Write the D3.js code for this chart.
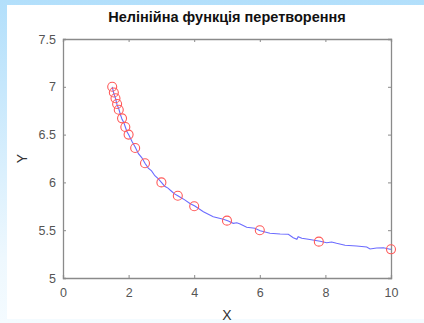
<!DOCTYPE html>
<html>
<head>
<meta charset="utf-8">
<script src="https://cdn.jsdelivr.net/npm/d3@7"></script>
<style>
  html, body { margin: 0; padding: 0; }
  body { width: 424px; height: 323px; overflow: hidden;
         background: linear-gradient(to bottom, #b2dffb, #eef8fe 80%, #f4fbff); }
  svg { display: block; }
</style>
</head>
<body>
<div id="chart"></div>
<script>
// data
const title = "Нелінійна функція перетворення";
const xTicks = [0, 2, 4, 6, 8, 10];
const yTicks = [5, 5.5, 6, 6.5, 7, 7.5];

// red circle markers
const markerX = [1.5, 1.55, 1.6, 1.65, 1.7, 1.8, 1.9, 2.0, 2.2, 2.5, 3, 3.5, 4, 5, 6, 7.8, 10];
const markerY = [7.0, 6.94, 6.88, 6.82, 6.76, 6.67, 6.58, 6.5, 6.36, 6.2, 6.0, 5.86, 5.75, 5.6, 5.5, 5.38, 5.3];

// noisy blue line
const lineX = [1.5, 1.55, 1.6, 1.65, 1.7, 1.75, 1.8, 1.85, 1.9, 1.95, 2.0, 2.1, 2.2, 2.3, 2.4, 2.5,
  2.6, 2.7, 2.8, 2.9, 3.0, 3.1, 3.2, 3.3, 3.4, 3.5, 3.6, 3.7, 3.87, 4.02, 4.28, 4.58, 4.89, 5.04,
  5.19, 5.30, 5.40, 5.60, 5.85, 6.01, 6.31, 6.62, 6.87, 7.02, 7.13, 7.17, 7.28, 7.48, 7.84, 8.04,
  8.19, 8.34, 8.60, 8.95, 9.26, 9.36, 9.56, 9.77, 9.97, 10];
const lineY = [7.0, 6.93, 6.88, 6.81, 6.77, 6.71, 6.66, 6.63, 6.58, 6.53, 6.5, 6.43, 6.37, 6.30, 6.26, 6.2,
  6.15, 6.12, 6.07, 6.04, 6.0, 5.96, 5.94, 5.91, 5.88, 5.86, 5.84, 5.82, 5.78, 5.753, 5.694, 5.641, 5.614, 5.596,
  5.572, 5.578, 5.565, 5.530, 5.520, 5.495, 5.468, 5.460, 5.457, 5.422, 5.405, 5.432, 5.415, 5.405, 5.384, 5.369,
  5.377, 5.363, 5.342, 5.335, 5.324, 5.303, 5.314, 5.317, 5.300, 5.30];

const width = 424;
const height = 323;
const margin = { top: 39, right: 33, bottom: 45, left: 63 };
const axisGray = "#8a8a8a";
const labelGray = "#555";

const svg = d3.select("#chart")
  .append("svg")
  .attr("width", width)
  .attr("height", height);

// white panel over the blue frame
svg.append("rect")
  .attr("x", 7).attr("y", 5)
  .attr("width", width - 7).attr("height", 314)
  .attr("fill", "#fff");

const x = d3.scaleLinear().domain([0, 10]).range([margin.left, width - margin.right]);
const y = d3.scaleLinear().domain([5, 7.5]).range([height - margin.bottom, margin.top]);

// axes, ticks pointing inward on all four sides
const gB = svg.append("g").attr("transform", `translate(0,${y(5)})`)
  .call(d3.axisBottom(x).tickValues(xTicks).tickSize(-3).tickPadding(10));
const gT = svg.append("g").attr("transform", `translate(0,${y(7.5)})`)
  .call(d3.axisTop(x).tickValues(xTicks).tickSize(-3).tickFormat(""));
const gL = svg.append("g").attr("transform", `translate(${x(0)},0)`)
  .call(d3.axisLeft(y).tickValues(yTicks).tickSize(-3).tickPadding(7).tickFormat(d3.format("")));
const gR = svg.append("g").attr("transform", `translate(${x(10)},0)`)
  .call(d3.axisRight(y).tickValues(yTicks).tickSize(-3).tickFormat(""));

[gB, gT, gL, gR].forEach(g => {
  g.select(".domain").attr("stroke", axisGray).attr("stroke-width", 1.3);
  g.selectAll(".tick line").attr("stroke", axisGray);
  g.selectAll(".tick text")
    .attr("fill", labelGray)
    .style("font-family", "Liberation Sans, Arial, sans-serif")
    .style("font-size", "12.5px");
});

// line
const pts = lineX.map((v, i) => [v, lineY[i]]);
svg.append("path")
  .datum(pts)
  .attr("fill", "none")
  .attr("stroke", "#6b6bff")
  .attr("stroke-width", 1.1)
  .attr("d", d3.line().x(d => x(d[0])).y(d => y(d[1])));

// markers
svg.append("g")
  .selectAll("circle")
  .data(markerX.map((v, i) => [v, markerY[i]]))
  .join("circle")
  .attr("cx", d => x(d[0]))
  .attr("cy", d => y(d[1]))
  .attr("r", 4.5)
  .attr("fill", "none")
  .attr("stroke", "#ff5a5a")
  .attr("stroke-width", 1.1);

// title and axis labels
svg.append("text")
  .attr("x", (x(0) + x(10)) / 2)
  .attr("y", 22)
  .attr("text-anchor", "middle")
  .style("font-family", "Liberation Sans, Arial, sans-serif")
  .style("font-weight", "bold")
  .style("font-size", "14.5px")
  .attr("fill", "#111")
  .text(title);

svg.append("text")
  .attr("x", (x(0) + x(10)) / 2)
  .attr("y", 320)
  .attr("text-anchor", "middle")
  .style("font-family", "Liberation Sans, Arial, sans-serif")
  .style("font-size", "14px")
  .attr("fill", "#333")
  .text("X");

svg.append("text")
  .attr("transform", `translate(27,${(y(5) + y(7.5)) / 2}) rotate(-90)`)
  .attr("text-anchor", "middle")
  .style("font-family", "Liberation Sans, Arial, sans-serif")
  .style("font-size", "14px")
  .attr("fill", "#333")
  .text("Y");
</script>
</body>
</html>
